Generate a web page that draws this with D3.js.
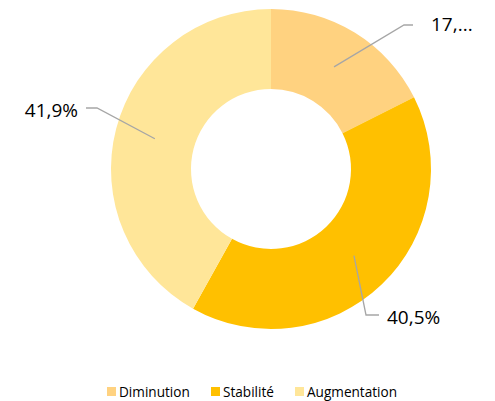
<!DOCTYPE html>
<html>
<head>
<meta charset="utf-8">
<script src="https://cdn.jsdelivr.net/npm/d3@7"></script>
<style>
  html, body { margin: 0; padding: 0; background: #fff; }
  svg { display: block; font-family: "Open Sans", sans-serif; }
</style>
</head>
<body>
<svg id="chart" width="495" height="401"></svg>
<script>
// Répartition des réponses
const categories = ["Diminution", "Stabilité", "Augmentation"];
const values = [17.6, 40.5, 41.9];
const labels = ["17,...", "40,5%", "41,9%"];
const colors = ["#FFD280", "#FFC000", "#FFE699"];

const svg = d3.select("#chart");
const cx = 271, cy = 169;
const outerR = 160, innerR = 80;

const pie = d3.pie().sort(null).value(d => d)(values);
const arc = d3.arc().innerRadius(innerR).outerRadius(outerR);
const color = d3.scaleOrdinal().domain(categories).range(colors);

const g = svg.append("g").attr("transform", `translate(${cx},${cy})`);

g.selectAll("path.slice")
  .data(pie)
  .join("path")
  .attr("class", "slice")
  .attr("d", arc)
  .attr("fill", (d, i) => color(categories[i]));

// Leader lines: start mid-ring, bend to a short horizontal stub next to the label
const midArc = d3.arc().innerRadius(innerR + 40).outerRadius(innerR + 40);
const labelLayout = [
  { elbow: [404, 25], stub: [413, 25], text: [431, 31], anchor: "start" },
  { elbow: [366, 315], stub: [379, 315], text: [387, 324], anchor: "start" },
  { elbow: [97, 108], stub: [86, 108], text: [78, 117], anchor: "end" }
];

pie.forEach((d, i) => {
  const [mx, my] = midArc.centroid(d);
  const L = labelLayout[i];
  const pts = [[mx + cx, my + cy], L.elbow, L.stub];
  svg.append("path")
    .attr("d", d3.line()(pts))
    .attr("fill", "none")
    .attr("stroke", "#A6A6A6")
    .attr("stroke-width", 1.3);
  svg.append("text")
    .attr("x", L.text[0])
    .attr("y", L.text[1])
    .attr("text-anchor", L.anchor)
    .attr("font-size", 19)
    .attr("fill", "#000")
    .text(labels[i]);
});

// Legend
const legendItems = [
  { x: 107 }, { x: 211 }, { x: 295 }
];
const legend = svg.append("g");
categories.forEach((c, i) => {
  const lx = legendItems[i].x;
  legend.append("rect")
    .attr("x", lx).attr("y", 387)
    .attr("width", 9).attr("height", 9)
    .attr("fill", color(c));
  legend.append("text")
    .attr("x", lx + 12).attr("y", 397)
    .attr("font-size", 13.6)
    .attr("fill", "#000")
    .text(c);
});
</script>
</body>
</html>
